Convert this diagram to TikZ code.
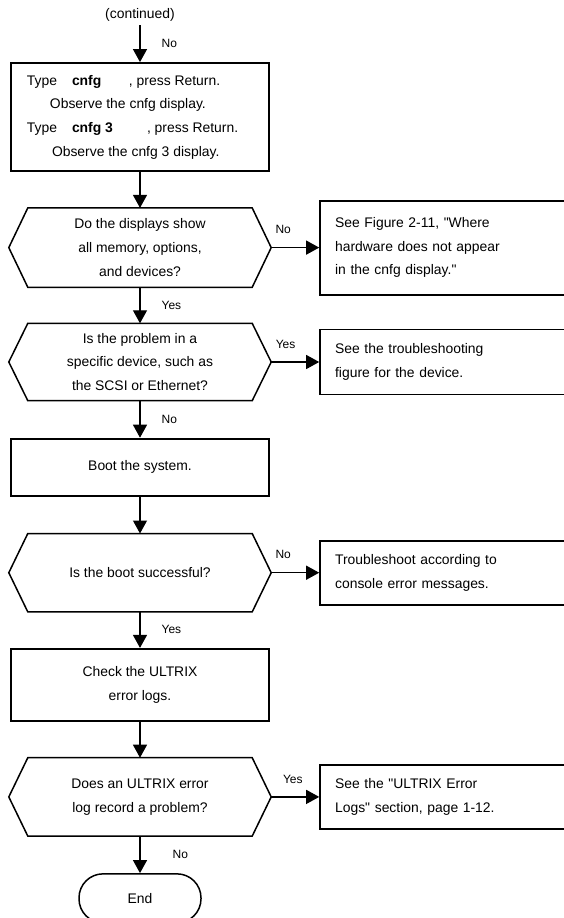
\documentclass[tikz,border=0pt]{standalone}
\usepackage{fontspec}
\setmainfont{Liberation Sans}[Ligatures=TeXOff]
\usetikzlibrary{positioning,arrows.meta}

\begin{document}
\begin{tikzpicture}[
        x=1pt, y=-1pt,
        txt/.style={font=\fontsize{13.9pt}{23.7pt}\selectfont},
        lbl/.style={font=\fontsize{12pt}{14pt}\selectfont, inner sep=0pt},
        process/.style={txt, rectangle, draw, line width=1.8pt, minimum width=258pt, align=center, inner sep=0pt},
        decision/.style={txt, rectangle, minimum width=262pt, minimum height=78pt, align=center, inner sep=0pt},
        note/.style={txt, rectangle, draw, line width=1.8pt, text width=221pt, inner xsep=15pt, inner ysep=0pt, align=left},
        terminal/.style={txt, rectangle, draw, line width=1.5pt, rounded corners=24pt, minimum width=122pt, minimum height=49pt},
        flow/.style={line width=1.2pt, -{Triangle[length=13pt, width=14pt]}}
    ]
        \useasboundingbox (0,0) rectangle (564,918);

        % Start of this page
        \node[txt] (cont) at (140,15) {(continued)};
        \node[process, minimum height=108pt] (cnfgbox) at (140,117) {%
            \makebox[258pt][l]{\hspace*{16pt}\rlap{Type}\hspace*{45pt}\rlap{\textbf{cnfg}}\hspace*{57pt}, press Return.}\\
            \makebox[258pt][l]{\hspace*{39pt}Observe the cnfg display.}\\
            \makebox[258pt][l]{\hspace*{16pt}\rlap{Type}\hspace*{45pt}\rlap{\textbf{cnfg 3}}\hspace*{75pt}, press Return.}\\
            \makebox[258pt][l]{\hspace*{41pt}Observe the cnfg 3 display.}};

        % Main column
        \node[decision, minimum height=79pt, below=36pt of cnfgbox] (askdisp) {Do the displays show\\all memory, options,\\and devices?};
        \node[decision, minimum height=77pt, below=36pt of askdisp] (askdev) {Is the problem in a\\specific device, such as\\the SCSI or Ethernet?};
        \node[process, minimum height=57pt, below=37pt of askdev] (boot) {Boot the system.};
        \node[decision, below=37pt of boot] (askboot) {Is the boot successful?};
        \node[process, minimum height=72pt, below=36pt of askboot] (checklog) {Check the ULTRIX\\error logs.};
        \node[decision, below=36pt of checklog] (asklog) {Does an ULTRIX error\\log record a problem?};
        \node[terminal, below=37pt of asklog] (endnode) {End};

        % Hexagon outlines of the questions
        \foreach \q in {askdisp,askdev,askboot,asklog}
            \draw[line width=1.5pt] (\q.west) -- ([xshift=19pt]\q.north west) -- ([xshift=-19pt]\q.north east)
                -- (\q.east) -- ([xshift=-19pt]\q.south east) -- ([xshift=19pt]\q.south west) -- cycle;

        % Side notes
        \node[note, minimum height=94pt, right=48pt of askdisp] (seefig) {See Figure 2-11, "Where\\hardware does not appear\\in the cnfg display."};
        \node[note, minimum height=65pt, right=48pt of askdev] (seetrbl) {See the troubleshooting\\figure for the device.};
        \node[note, minimum height=64pt, right=48pt of askboot] (console) {Troubleshoot according to\\console error messages.};
        \node[note, minimum height=64pt, right=48pt of asklog] (seelogs) {See the "ULTRIX Error\\Logs" section, page 1-12.};

        % Connections
        \draw[flow] (cont) -- node[lbl, right=21pt] {No} (cnfgbox);
        \draw[flow] (cnfgbox) -- (askdisp);
        \draw[flow] (askdisp) -- node[lbl, pos=0.25, above=13pt] {No} (seefig);
        \draw[flow] (askdisp) -- node[lbl, right=21pt] {Yes} (askdev);
        \draw[flow] (askdev) -- node[lbl, pos=0.3, above=13pt] {Yes} (seetrbl);
        \draw[flow] (askdev) -- node[lbl, right=21pt] {No} (boot);
        \draw[flow] (boot) -- (askboot);
        \draw[flow] (askboot) -- node[lbl, pos=0.25, above=13pt] {No} (console);
        \draw[flow] (askboot) -- node[lbl, right=21pt] {Yes} (checklog);
        \draw[flow] (checklog) -- (asklog);
        \draw[flow] (asklog) -- node[lbl, pos=0.45, above=13pt] {Yes} (seelogs);
        \draw[flow] (asklog) -- node[lbl, right=32pt] {No} (endnode);

    \end{tikzpicture}
\end{document}
